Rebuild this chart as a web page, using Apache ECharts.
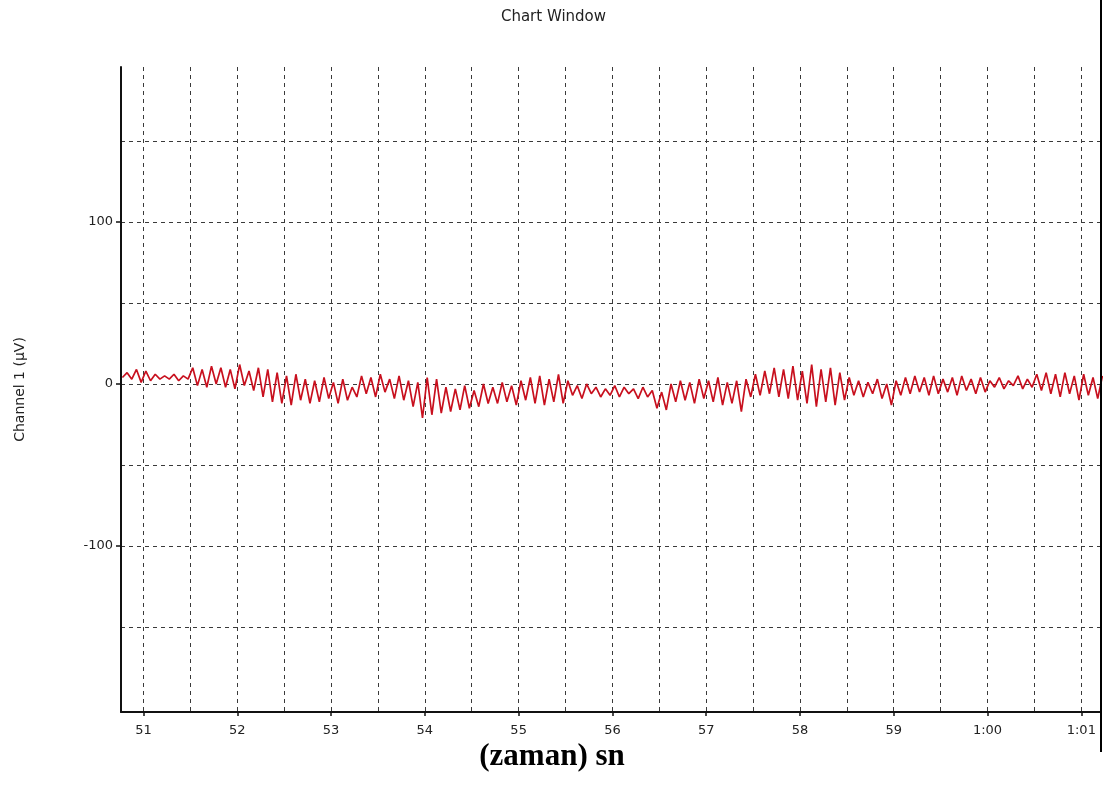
<!DOCTYPE html>
<html>
<head>
<meta charset="utf-8">
<script src="https://cdn.jsdelivr.net/npm/echarts@6/dist/echarts.min.js"></script>
<style>
html,body{margin:0;padding:0;background:#fff;}
#chart{width:1107px;height:795px;}
</style>
</head>
<body>
<div id="chart"></div>
<script>
// ---- data ----
const titleText = 'Chart Window';
const yAxisTitle = 'Channel 1 (\u00b5V)';
const xAxisTitle = '(zaman) sn';
const xMin = 50.76, xMax = 61.21;
const yMin = -202.5, yMax = 195.7;
const xLabelTicks = [51, 52, 53, 54, 55, 56, 57, 58, 59, 60, 61];
const xLabelText = ['51', '52', '53', '54', '55', '56', '57', '58', '59', '1:00', '1:01'];
const xGridTicks = [51, 51.5, 52, 52.5, 53, 53.5, 54, 54.5, 55, 55.5, 56, 56.5, 57, 57.5, 58, 58.5, 59, 59.5, 60, 60.5, 61];
const yLabelTicks = [-100, 0, 100];
const yGridTicks = [-150, -100, -50, 0, 50, 100, 150];
// sampled signal (µV), one sample every 0.05 s starting at 50.775 s
const sampleStart = 50.775;
const sampleStep = 0.05;
const channel1 = [
  4, 7, 3, 9, 1, 8, 2, 6, 3, 5,
  3, 6, 2, 5, 3, 10, -1, 9, -2, 11,
  0, 10, -2, 9, -3, 12, -1, 8, -4, 10,
  -8, 9, -11, 7, -12, 5, -13, 6, -10, 3,
  -12, 2, -11, 4, -9, 1, -12, 3, -10, -2,
  -8, 5, -6, 4, -8, 6, -5, 3, -9, 5,
  -10, 2, -14, 1, -21, 4, -19, 3, -18, -2,
  -17, -3, -16, -1, -15, -4, -14, 0, -12, -2,
  -12, 1, -11, -1, -13, 2, -10, 4, -12, 5,
  -13, 3, -11, 6, -12, 2, -7, -1, -9, 0,
  -6, -2, -8, -3, -7, -1, -8, -2, -6, -3,
  -9, -2, -8, -4, -15, -5, -16, 0, -11, 2,
  -10, 1, -12, 3, -9, 2, -11, 4, -13, 1,
  -12, 2, -17, 3, -8, 6, -7, 8, -6, 10,
  -8, 9, -9, 11, -10, 8, -12, 12, -14, 9,
  -11, 10, -13, 7, -10, 4, -7, 2, -8, 1,
  -6, 3, -9, 0, -13, 2, -7, 4, -6, 5,
  -5, 4, -7, 5, -6, 3, -5, 4, -7, 5,
  -4, 3, -6, 4, -5, 2, -2, 4, -3, 2,
  -1, 5, -3, 3, -2, 6, -4, 7, -6, 6,
  -8, 7, -6, 5, -10, 6, -7, 4, -9, 5
];

const seriesData = channel1.map((v, i) => [sampleStart + i * sampleStep, v]);
const xLabelMap = {};
xLabelTicks.forEach((t, i) => { xLabelMap[t] = xLabelText[i]; });

const gridLine = { show: true, lineStyle: { color: '#3a3a3a', type: [4, 4], width: 1 }, showMinLine: true, showMaxLine: true };
const font = 'DejaVu Sans';

const chart = echarts.init(document.getElementById('chart'), null, { renderer: 'canvas' });
chart.setOption({
  animation: false,
  backgroundColor: '#ffffff',
  title: {
    text: titleText, left: 'center', top: 5,
    textStyle: { fontFamily: font, fontSize: 15, fontWeight: 'normal', color: '#222' }
  },
  grid: { left: 121, right: 6, top: 67, bottom: 83, containLabel: false },
  xAxis: [
    {
      type: 'value', min: xMin, max: xMax, position: 'bottom',
      axisLine: { show: true, onZero: false, lineStyle: { color: '#111', width: 2 } },
      axisTick: { show: true, length: 4, customValues: xLabelTicks, lineStyle: { color: '#111', width: 1.5 } },
      axisLabel: {
        show: true, customValues: xLabelTicks, margin: 12,
        fontFamily: font, fontSize: 13, color: '#222',
        formatter: v => xLabelMap[Math.round(v)] || ''
      },
      splitLine: { show: false }
    },
    {
      type: 'value', min: xMin, max: xMax, position: 'bottom',
      axisLine: { show: false }, axisTick: { show: false, customValues: xGridTicks },
      axisLabel: { show: false, customValues: xGridTicks },
      splitLine: gridLine
    }
  ],
  yAxis: [
    {
      type: 'value', min: yMin, max: yMax,
      axisLine: { show: true, onZero: false, lineStyle: { color: '#111', width: 2 } },
      axisTick: { show: true, length: 5, customValues: yLabelTicks, lineStyle: { color: '#111', width: 1.5 } },
      axisLabel: { show: true, customValues: yLabelTicks, margin: 8, fontFamily: font, fontSize: 13, color: '#222' },
      splitLine: { show: false },
      name: yAxisTitle, nameLocation: 'middle', nameGap: 94, nameRotate: 90,
      nameTextStyle: { fontFamily: font, fontSize: 14, color: '#222' }
    },
    {
      type: 'value', min: yMin, max: yMax,
      axisLine: { show: false }, axisTick: { show: false, customValues: yGridTicks },
      axisLabel: { show: false, customValues: yGridTicks },
      splitLine: gridLine
    }
  ],
  graphic: [
    { type: 'line', shape: { x1: 1101, y1: 0, x2: 1101, y2: 752 }, style: { stroke: '#000', lineWidth: 2 }, z: 100 },
    {
      type: 'text', x: 552, y: 757, z: 100,
      style: {
        text: xAxisTitle, textAlign: 'center', textVerticalAlign: 'middle',
        font: 'bold 31px "Liberation Serif"', fill: '#000'
      }
    }
  ],
  series: [
    {
      type: 'line', xAxisIndex: 0, yAxisIndex: 0,
      data: seriesData, showSymbol: false, symbol: 'none',
      lineStyle: { color: '#c8101e', width: 1.7 },
      clip: true, z: 5
    }
  ]
});
</script>
</body>
</html>
